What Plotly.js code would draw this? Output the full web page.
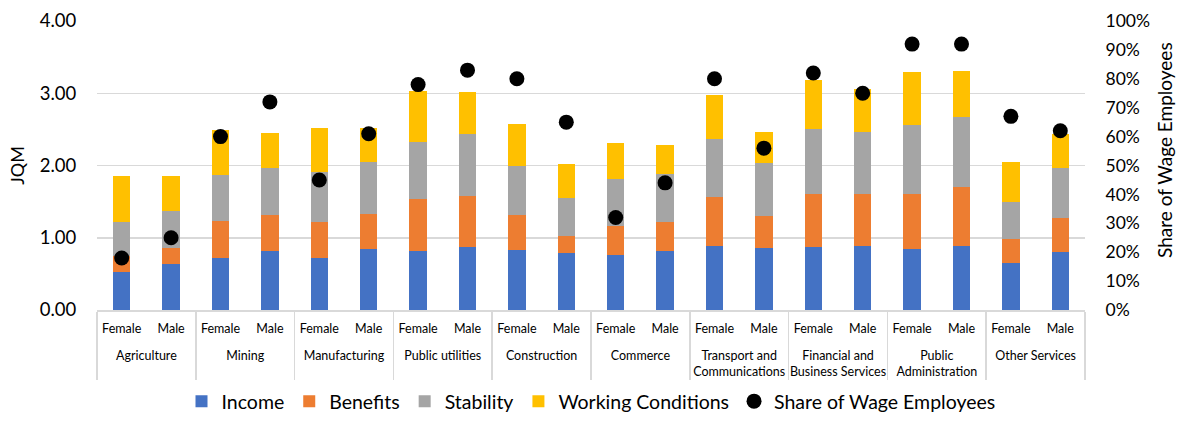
<!DOCTYPE html>
<html>
<head>
<meta charset="utf-8">
<script src="https://cdn.plot.ly/plotly-3.0.1.min.js"></script>
<style>html,body{margin:0;padding:0;background:#fff;}#chart{width:1183px;height:421px;}</style>
</head>
<body>
<div id="chart"></div>
<script>
const sectors = ["Agriculture","Mining","Manufacturing","Public utilities","Construction","Commerce","Transport and<br>Communications","Financial and<br>Business Services","Public<br>Administration","Other Services"];
const genders = ["Female","Male"];
const income     = [0.52,0.64, 0.72,0.82, 0.72,0.84, 0.81,0.87, 0.83,0.79, 0.76,0.81, 0.88,0.86, 0.87,0.88, 0.84,0.88, 0.65,0.80];
const benefits   = [0.23,0.22, 0.51,0.50, 0.50,0.49, 0.72,0.71, 0.48,0.24, 0.40,0.41, 0.68,0.44, 0.74,0.73, 0.77,0.82, 0.33,0.47];
const stability  = [0.47,0.51, 0.64,0.65, 0.69,0.72, 0.80,0.86, 0.69,0.52, 0.66,0.66, 0.81,0.73, 0.89,0.86, 0.95,0.97, 0.52,0.70];
const working    = [0.63,0.48, 0.62,0.48, 0.61,0.47, 0.70,0.58, 0.57,0.47, 0.49,0.41, 0.60,0.43, 0.68,0.59, 0.74,0.64, 0.55,0.46];
const shareWage  = [0.18,0.25, 0.60,0.72, 0.45,0.61, 0.78,0.83, 0.80,0.65, 0.32,0.44, 0.80,0.56, 0.82,0.75, 0.92,0.92, 0.67,0.62];

const xSector = [], xGender = [];
// trailing blank line under the gender label leaves room before the sector row
sectors.forEach(s => genders.forEach(g => { xSector.push(s); xGender.push(g + '<br>&nbsp;'); }));
const x = [xSector, xGender];

const font = "Lato, 'Open Sans', sans-serif";
const barTrace = (name, y, color) => ({type:'bar', name, x, y, marker:{color}, hoverinfo:'y'});
const traces = [
  barTrace('Income', income, '#4472c4'),
  barTrace('Benefits', benefits, '#ed7d31'),
  barTrace('Stability', stability, '#a5a5a5'),
  barTrace('Working Conditions', working, '#ffc000'),
  {type:'scatter', mode:'markers', name:'Share of Wage Employees', x, y:shareWage, yaxis:'y2',
   marker:{color:'#000', size:15}}
];

const layout = {
  width:1183, height:421,
  margin:{l:97, r:98, t:21, b:111, autoexpand:false},
  barmode:'stack', bargap:0.65,
  paper_bgcolor:'#fff', plot_bgcolor:'#fff',
  font:{family:font, color:'#000'},
  showlegend:true,
  legend:{orientation:'h', x:0.5, xanchor:'center', yref:'container', y:-0.03, yanchor:'bottom', traceorder:'normal',
          font:{size:19.5, family:font}, itemwidth:20},
  xaxis:{type:'multicategory', automargin:false, range:[-0.5,19.5], showline:true, linecolor:'#d9d9d9', linewidth:1.5,
         tickangle:0, ticklabelstandoff:6, tickfont:{size:12.5, family:font}, showdividers:true, dividercolor:'#d9d9d9', dividerwidth:1.5,
         ticks:'', showgrid:false},
  yaxis:{range:[0,4], dtick:1, tickformat:'.2f', showgrid:true, gridcolor:'#d9d9d9', gridwidth:1.5,
         ticks:'outside', ticklen:16, tickcolor:'rgba(0,0,0,0)',
         automargin:false, zeroline:false, tickfont:{size:18.5}, title:{text:'JQM', font:{size:18}, standoff:10}},
  yaxis2:{range:[0,1], dtick:0.1, tickformat:'.0%', overlaying:'y', side:'right', showgrid:false,
          ticks:'outside', ticklen:16, tickcolor:'rgba(0,0,0,0)',
          automargin:false, zeroline:false, tickfont:{size:17.5}},
  annotations:[{text:'Share of Wage Employees', xref:'paper', yref:'paper', x:1, y:0.554, xshift:80,
                xanchor:'center', yanchor:'middle', textangle:-90, showarrow:false, font:{size:19, family:font}}]
};
Plotly.newPlot('chart', traces, layout, {displayModeBar:false, staticPlot:true});
</script>
</body>
</html>
